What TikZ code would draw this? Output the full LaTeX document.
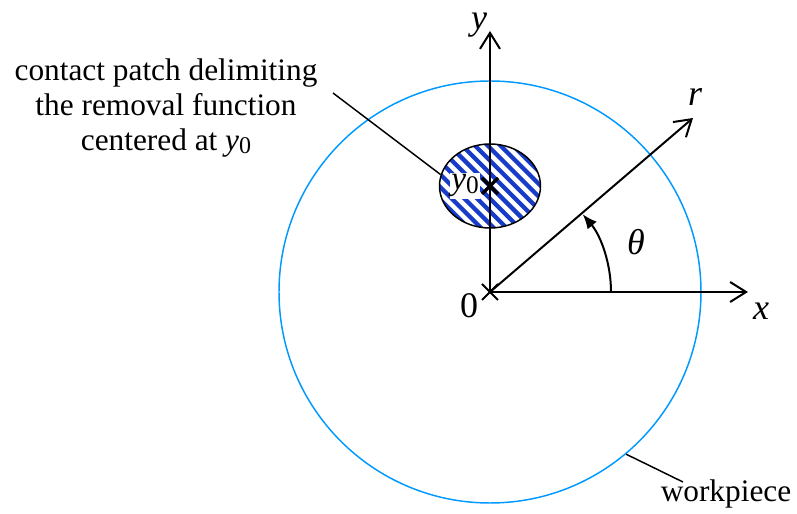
\documentclass[tikz,border=0pt]{standalone}
\usepackage{fontspec}
\setmainfont{Liberation Serif}
\usetikzlibrary{arrows.meta,shapes.geometric,calc}
\definecolor{wpblue}{RGB}{0,153,255}
\definecolor{hatchblue}{RGB}{25,60,200}
\begin{document}
\begin{tikzpicture}[x=0.75pt,y=0.75pt,
  axis/.style={line width=1.5pt,-{Straight Barb[length=12pt,width=15pt,line width=1.5pt]}},
  leader/.style={line width=1.1pt},
  lbl/.style={font=\fontsize{23.5pt}{26.2pt}\selectfont,inner sep=0pt},
  axlbl/.style={font=\fontsize{27pt}{30pt}\selectfont\itshape,inner sep=0pt,anchor=base}]
\useasboundingbox (0,0) rectangle (797,514);
\coordinate (O) at (490,222);
% workpiece
\node[circle,draw=wpblue,line width=1.1pt,minimum size=316.5pt,inner sep=0pt] (wp) at (O) {};
% hatched patch
\begin{scope}
  \clip (490,328) ellipse [x radius=50.5, y radius=42];
  \foreach \i in {-9,...,9}
    \draw[hatchblue,line width=3.2pt] (490+\i*12.7-55,383) -- (490+\i*12.7+55,273);
\end{scope}
\node[ellipse,draw,line width=1.1pt,minimum width=75.75pt,minimum height=63pt,inner sep=0pt] (patch) at (490,328) {};
% axes
\coordinate (ytip) at (490,483);
\coordinate (xtip) at (748,222);
\coordinate (rtip) at (693,396);
\draw[axis] (O) -- (ytip);
\draw[axis] (O) -- (xtip);
\draw[axis] (O) -- (rtip);
% origin cross
\draw[line width=1.5pt] (482,230) -- (498,214) (482,214) -- (498,230);
% theta arc
\draw[line width=1.5pt,-{Latex[length=11pt,width=9pt]}] ($(O)+(121,0)$) arc[start angle=0,end angle=40,radius=90.75pt];
% labels
\node[axlbl] (ylab) at (479,484.5) {y};
\node[axlbl] (xlab) at (761,194) {x};
\node[axlbl] (rlab) at (695,408) {r};
\node[axlbl] (thlab) at (636,259) {θ};
\node[axlbl,font=\fontsize{27pt}{30pt}\selectfont] (zlab) at (469,196) {0};
% y0 label inside patch
\node[fill=white,inner sep=1pt,anchor=base,font=\fontsize{25pt}{28pt}\selectfont] (y0lab) at (465,324) {\textit{y}\raisebox{-0.2ex}{\fontsize{19pt}{20pt}\selectfont 0}};
\draw[line width=2.6pt] (482,336) -- (498,320) (482,320) -- (498,336);
% contact patch label
\node[lbl,align=center] (cplab) at (166,406) {contact patch delimiting\\the removal function\\centered at \textit{y}\raisebox{-0.2ex}{\fontsize{18pt}{20pt}\selectfont 0}};
\coordinate (cpstart) at (333,421);
\draw[leader] (cpstart) -- (patch.167);
% workpiece label
\node[lbl,anchor=base] (wplab) at (726,12) {workpiece};
\coordinate (wpend) at (683,32);
\draw[leader] (wp.-50) -- (wpend);
\end{tikzpicture}
\end{document}
